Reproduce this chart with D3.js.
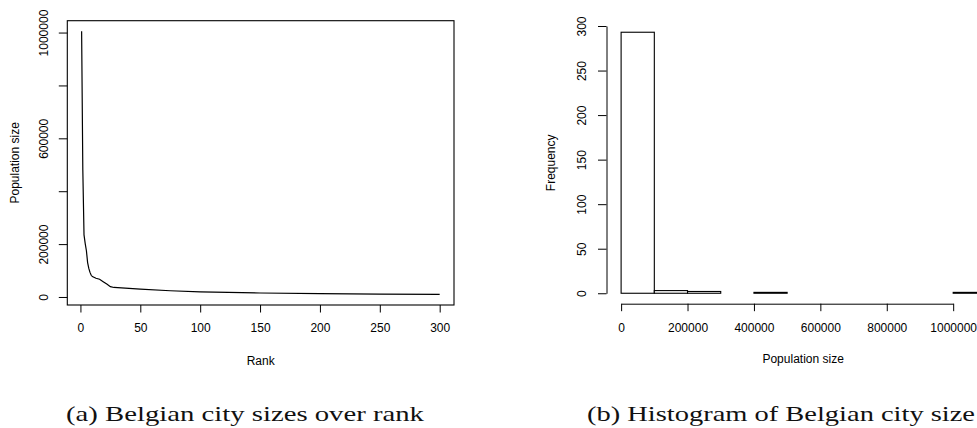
<!DOCTYPE html>
<html>
<head>
<meta charset="utf-8">
<script src="https://cdn.jsdelivr.net/npm/d3@7.9.0/dist/d3.min.js"></script>
<style>
  body { margin: 0; background: #fff; }
  svg { display: block; }
</style>
</head>
<body>
<svg id="chart" width="977" height="428"></svg>
<script>
// (a) city size by rank
const ranks = [1, 2, 3, 4, 5, 6, 7, 8, 9, 10, 13, 16, 19, 22, 25, 28, 50, 75, 100, 150, 200, 250, 300];
const populations = [1005000, 480000, 235000, 202000, 175000, 130000, 108000, 93000, 82000, 77000, 71000, 67000, 58000, 49000, 39000, 36000, 30000, 23500, 19000, 15000, 12500, 10500, 9500];
const rankTicks = [0, 50, 100, 150, 200, 250, 300];
const popTicks = [0, 200000, 400000, 600000, 800000, 1000000];
const popTickLabels = [0, 200000, 600000, 1000000];

// (b) histogram of city sizes
const binStarts = [0, 100000, 200000, 300000, 400000, 500000, 600000, 700000, 800000, 900000, 1000000];
const binWidth = 100000;
const counts = [293, 3, 2, 0, 1, 0, 0, 0, 0, 0, 1];
const freqTicks = [0, 50, 100, 150, 200, 250, 300];
const sizeTicks = [0, 200000, 400000, 600000, 800000, 1000000];

// caption (b) runs off the right edge in the figure; this is the visible part
const captionA = "(a) Belgian city sizes over rank";
const captionB = "(b) Histogram of Belgian city size";

const sans = "'Liberation Sans', Arial, sans-serif";
const serif = "'Liberation Serif', 'Times New Roman', serif";

const svg = d3.select("#chart");

// R style 4% padding
function pad(lo, hi) {
    const r = hi - lo;
    return [lo - 0.04 * r, hi + 0.04 * r];
}

// ---------- panel (a) ----------
const a = { left: 67.3, right: 454, top: 20.7, bottom: 305 };

const data = ranks.map((r, i) => ({ rank: r, pop: populations[i] }));

const xA = d3.scaleLinear()
    .domain(pad(d3.min(ranks), d3.max(ranks)))
    .range([a.left, a.right]);
const yA = d3.scaleLinear()
    .domain(pad(d3.min(populations), d3.max(populations)))
    .range([a.bottom, a.top]);

const gA = svg.append("g");

gA.append("path")
    .datum(data)
    .attr("d", d3.line().x(d => xA(d.rank)).y(d => yA(d.pop)))
    .attr("fill", "none")
    .attr("stroke", "#000")
    .attr("stroke-width", 1.2);

gA.append("rect")
    .attr("x", a.left)
    .attr("y", a.top)
    .attr("width", a.right - a.left)
    .attr("height", a.bottom - a.top)
    .attr("fill", "none")
    .attr("stroke", "#000")
    .attr("stroke-width", 1.1);

const xAxisA = gA.append("g")
    .attr("transform", `translate(0, ${a.bottom})`)
    .call(d3.axisBottom(xA).tickValues(rankTicks).tickSize(7.5).tickSizeOuter(0));
xAxisA.select(".domain").remove();
xAxisA.selectAll("text")
    .attr("y", 18)
    .style("font-family", sans)
    .style("font-size", "12px");

const yAxisA = gA.append("g")
    .attr("transform", `translate(${a.left}, 0)`)
    .call(d3.axisLeft(yA).tickValues(popTicks).tickSize(8.5).tickSizeOuter(0)
        .tickFormat(d => popTickLabels.includes(d) ? d3.format("d")(d) : ""));
yAxisA.select(".domain").remove();
yAxisA.selectAll("text")
    .attr("x", null)
    .attr("dy", null)
    .attr("text-anchor", "middle")
    .attr("transform", "translate(-19.3, 0) rotate(-90)")
    .style("font-family", sans)
    .style("font-size", "12px");

gA.append("text")
    .attr("x", (a.left + a.right) / 2)
    .attr("y", 364.5)
    .attr("text-anchor", "middle")
    .style("font-family", sans)
    .style("font-size", "12px")
    .text("Rank");

gA.append("text")
    .attr("transform", `translate(18.5, ${(a.top + a.bottom) / 2}) rotate(-90)`)
    .attr("text-anchor", "middle")
    .style("font-family", sans)
    .style("font-size", "12px")
    .text("Population size");

// ---------- panel (b) ----------
const b = { left: 606.5, right: 1001, top: 21.8, bottom: 303.7 };

const xB = d3.scaleLinear()
    .domain(pad(binStarts[0], binStarts[binStarts.length - 1] + binWidth))
    .range([b.left, b.right]);
const yB = d3.scaleLinear()
    .domain(pad(0, d3.max(counts)))
    .range([b.bottom, b.top]);

const gB = svg.append("g");

gB.selectAll("rect.bar")
    .data(binStarts.map((s, i) => ({ start: s, count: counts[i] })))
    .join("rect")
    .attr("class", "bar")
    .attr("x", d => xB(d.start))
    .attr("width", d => xB(d.start + binWidth) - xB(d.start))
    .attr("y", d => yB(d.count))
    .attr("height", d => yB(0) - yB(d.count))
    .attr("fill", "#fff")
    .attr("stroke", "#000")
    .attr("stroke-width", 1.1);

// axis lines only run from first to last tick, like R
const yAxisScaleB = yB.copy().domain([freqTicks[0], freqTicks[freqTicks.length - 1]])
    .range([yB(freqTicks[0]), yB(freqTicks[freqTicks.length - 1])]);
const yAxisB = gB.append("g")
    .attr("transform", `translate(${b.left}, 0)`)
    .call(d3.axisLeft(yAxisScaleB).tickValues(freqTicks).tickSize(8.5).tickSizeOuter(0));
yAxisB.selectAll("text")
    .attr("x", null)
    .attr("dy", null)
    .attr("text-anchor", "middle")
    .attr("transform", "translate(-21, 0) rotate(-90)")
    .style("font-family", sans)
    .style("font-size", "12px");

const xAxisScaleB = xB.copy().domain([sizeTicks[0], sizeTicks[sizeTicks.length - 1]])
    .range([xB(sizeTicks[0]), xB(sizeTicks[sizeTicks.length - 1])]);
const xAxisB = gB.append("g")
    .attr("transform", `translate(0, ${b.bottom})`)
    .call(d3.axisBottom(xAxisScaleB).tickValues(sizeTicks).tickSize(7.5).tickSizeOuter(0)
        .tickFormat(d3.format("d")));
xAxisB.selectAll("text")
    .attr("y", 19.5)
    .style("font-family", sans)
    .style("font-size", "12px");

gB.append("text")
    .attr("x", xB(sizeTicks[0]) + (xB(sizeTicks[sizeTicks.length - 1]) - xB(sizeTicks[0])) / 2 + 16)
    .attr("y", 363)
    .attr("text-anchor", "middle")
    .style("font-family", sans)
    .style("font-size", "12px")
    .text("Population size");

gB.append("text")
    .attr("transform", `translate(555.3, ${(a.top + a.bottom) / 2}) rotate(-90)`)
    .attr("text-anchor", "middle")
    .style("font-family", sans)
    .style("font-size", "12px")
    .text("Frequency");

svg.selectAll(".tick line").attr("stroke", "#000");
svg.selectAll(".domain").attr("stroke", "#000");
svg.selectAll(".tick text").attr("fill", "#000");

// ---------- captions ----------
const capA = svg.append("text")
    .attr("x", 66)
    .attr("y", 421)
    .attr("fill", "#111")
    .style("font-family", serif)
    .style("font-size", "21px")
    .text(captionA);
const capB = svg.append("text")
    .attr("x", 587)
    .attr("y", 421)
    .attr("fill", "#111")
    .style("font-family", serif)
    .style("font-size", "21px")
    .text(captionB);

// widen the serif face to the LaTeX caption widths
capA.attr("textLength", 358).attr("lengthAdjust", "spacingAndGlyphs");
capB.attr("textLength", 388).attr("lengthAdjust", "spacingAndGlyphs");
</script>
</body>
</html>
